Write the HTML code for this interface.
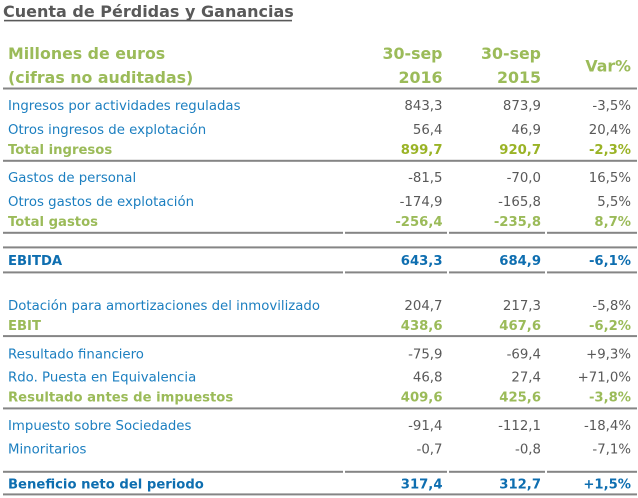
<!DOCTYPE html>
<html><head><meta charset="utf-8"><style>
html,body{margin:0;padding:0;background:#fff;}
svg{display:block;}
text{font-family:"DejaVu Sans","Liberation Sans",sans-serif;}
.t{font-size:16px;font-weight:bold;fill:#595959;}
.h{font-size:15.8px;font-weight:bold;fill:#9bbb59;}
.l{font-size:13.3px;fill:#1c7fc0;}
.n{font-size:13.3px;fill:#595959;text-anchor:end;}
.g{font-size:13.2px;font-weight:bold;fill:#9bbb59;}
.gn{font-size:13.2px;font-weight:bold;fill:#9bbb59;text-anchor:end;}
.g1{font-size:13.2px;font-weight:bold;fill:#9ab326;text-anchor:end;}
.b{font-size:13.2px;font-weight:bold;fill:#0e6eb0;}
.bn{font-size:13.2px;font-weight:bold;fill:#0e6eb0;text-anchor:end;}
.e{text-anchor:end;}
</style></head><body>
<svg width="638" height="498" viewBox="0 0 638 498" xmlns="http://www.w3.org/2000/svg">
<text class="t" x="3" y="17">Cuenta de Pérdidas y Ganancias</text>
<rect x="4" y="19.8" width="288" height="1.6" fill="#595959"/>

<text class="h" x="8" y="59">Millones de euros</text>
<text class="h" x="8" y="83">(cifras no auditadas)</text>
<text class="h e" x="442.5" y="59">30-sep</text>
<text class="h e" x="442.5" y="83">2016</text>
<text class="h e" x="541" y="59">30-sep</text>
<text class="h e" x="541" y="83">2015</text>
<text class="h e" x="631" y="71.5">Var%</text>

<g fill="#858585">
<rect x="3" y="87.5" width="634" height="2"/>
<rect x="3" y="159.8" width="634" height="2"/>
<rect x="3" y="231.8" width="340" height="2"/><rect x="345" y="231.8" width="102" height="2"/><rect x="449" y="231.8" width="96" height="2"/><rect x="547" y="231.8" width="90" height="2"/>
<rect x="3" y="246.4" width="634" height="2"/>
<rect x="3" y="271.4" width="340" height="2"/><rect x="345" y="271.4" width="102" height="2"/><rect x="449" y="271.4" width="96" height="2"/><rect x="547" y="271.4" width="90" height="2"/>
<rect x="3" y="335.1" width="634" height="2"/>
<rect x="3" y="407.4" width="634" height="2"/>
<rect x="3" y="470.8" width="340" height="2"/><rect x="345" y="470.8" width="102" height="2"/><rect x="449" y="470.8" width="96" height="2"/><rect x="547" y="470.8" width="90" height="2"/>
<rect x="3" y="493.4" width="634" height="2"/>
</g>

<text class="l" x="8" y="110">Ingresos por actividades reguladas</text>
<text class="n" x="442.5" y="110">843,3</text><text class="n" x="541" y="110">873,9</text><text class="n" x="631" y="110">-3,5%</text>
<text class="l" x="8" y="134">Otros ingresos de explotación</text>
<text class="n" x="442.5" y="134">56,4</text><text class="n" x="541" y="134">46,9</text><text class="n" x="631" y="134">20,4%</text>
<text class="g" x="8" y="154">Total ingresos</text>
<text class="g1" x="442.5" y="154">899,7</text><text class="g1" x="541" y="154">920,7</text><text class="g1" x="631" y="154">-2,3%</text>

<text class="l" x="8" y="182">Gastos de personal</text>
<text class="n" x="442.5" y="182">-81,5</text><text class="n" x="541" y="182">-70,0</text><text class="n" x="631" y="182">16,5%</text>
<text class="l" x="8" y="206">Otros gastos de explotación</text>
<text class="n" x="442.5" y="206">-174,9</text><text class="n" x="541" y="206">-165,8</text><text class="n" x="631" y="206">5,5%</text>
<text class="g" x="8" y="226">Total gastos</text>
<text class="gn" x="442.5" y="226">-256,4</text><text class="gn" x="541" y="226">-235,8</text><text class="gn" x="631" y="226">8,7%</text>

<text class="b" x="8" y="265">EBITDA</text>
<text class="bn" x="442.5" y="265">643,3</text><text class="bn" x="541" y="265">684,9</text><text class="bn" x="631" y="265">-6,1%</text>

<text class="l" x="8" y="310">Dotación para amortizaciones del inmovilizado</text>
<text class="n" x="442.5" y="310">204,7</text><text class="n" x="541" y="310">217,3</text><text class="n" x="631" y="310">-5,8%</text>
<text class="g" x="8" y="330">EBIT</text>
<text class="gn" x="442.5" y="330">438,6</text><text class="gn" x="541" y="330">467,6</text><text class="gn" x="631" y="330">-6,2%</text>

<text class="l" x="8" y="358.3">Resultado financiero</text>
<text class="n" x="442.5" y="358.3">-75,9</text><text class="n" x="541" y="358.3">-69,4</text><text class="n" x="631" y="358.3">+9,3%</text>
<text class="l" x="8" y="381.7">Rdo. Puesta en Equivalencia</text>
<text class="n" x="442.5" y="381.7">46,8</text><text class="n" x="541" y="381.7">27,4</text><text class="n" x="631" y="381.7">+71,0%</text>
<text class="g" x="8" y="401.7">Resultado antes de impuestos</text>
<text class="gn" x="442.5" y="401.7">409,6</text><text class="gn" x="541" y="401.7">425,6</text><text class="gn" x="631" y="401.7">-3,8%</text>

<text class="l" x="8" y="430">Impuesto sobre Sociedades</text>
<text class="n" x="442.5" y="430">-91,4</text><text class="n" x="541" y="430">-112,1</text><text class="n" x="631" y="430">-18,4%</text>
<text class="l" x="8" y="453.3">Minoritarios</text>
<text class="n" x="442.5" y="453.3">-0,7</text><text class="n" x="541" y="453.3">-0,8</text><text class="n" x="631" y="453.3">-7,1%</text>

<text class="b" x="8" y="488.3">Beneficio neto del periodo</text>
<text class="bn" x="442.5" y="488.3">317,4</text><text class="bn" x="541" y="488.3">312,7</text><text class="bn" x="631" y="488.3">+1,5%</text>
</svg>
</body></html>
